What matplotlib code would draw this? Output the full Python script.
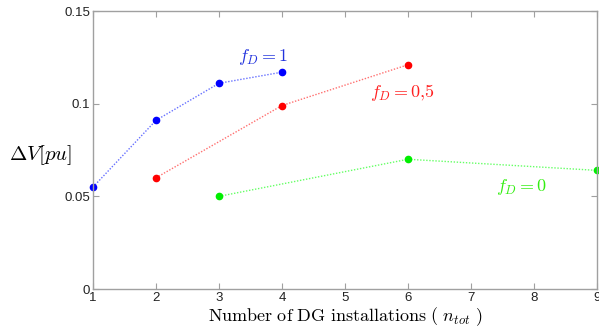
import matplotlib
matplotlib.use("Agg")
import matplotlib.pyplot as plt

plt.rcParams['mathtext.fontset'] = 'cm'

x_fd1 = [1, 2, 3, 4]
y_fd1 = [0.055, 0.091, 0.111, 0.117]
x_fd05 = [2, 4, 6]
y_fd05 = [0.060, 0.099, 0.121]
x_fd0 = [3, 6, 9]
y_fd0 = [0.050, 0.070, 0.064]
xticks = [1, 2, 3, 4, 5, 6, 7, 8, 9]
yticks = [0, 0.05, 0.1, 0.15]
ytick_labels = ['0', '0.05', '0.1', '0.15']

fig = plt.figure(figsize=(5.99, 3.28), dpi=100)
ax = fig.add_axes([93/599, 39/328, 504/599, 278/328])

for xs, ys, c, lc in [(x_fd1, y_fd1, '#0000ff', '#6670ff'),
                      (x_fd05, y_fd05, '#ff0000', '#ff7070'),
                      (x_fd0, y_fd0, '#00ee00', '#66ff66')]:
    ax.plot(xs, ys, color=lc, lw=1.0, ls=(0, (1, 1.2)), clip_on=False)
    ax.plot(xs, ys, 'o', color=c, ms=4.5, clip_on=False)

ax.text(3.3, 0.125, r'$f_D = 1$', color='#2233dd', fontsize=13, ha='left', va='center')
ax.text(5.4, 0.106, r'$f_D = 0{,}5$', color='#ff2020', fontsize=13, ha='left', va='center')
ax.text(7.4, 0.055, r'$f_D = 0$', color='#33ee11', fontsize=13, ha='left', va='center')

ax.set_xlim(1, 9)
ax.set_ylim(0, 0.15)
ax.set_xticks(xticks)
ax.set_yticks(yticks)
ax.set_yticklabels(ytick_labels)

for s in ax.spines.values():
    s.set_color('#a0a0a0')
    s.set_linewidth(1.0)
ax.tick_params(direction='in', length=4, color='#a0a0a0', labelsize=9.5,
               labelcolor='#222222', top=True, right=True, pad=2)
for lab in ax.get_xticklabels() + ax.get_yticklabels():
    lab.set_family('Liberation Sans')

ax.set_xlabel(r'$\mathrm{Number\ of\ DG\ installations\ (\ }n_{tot}\mathrm{\ )}$', fontsize=13,
              labelpad=1)
ax.set_ylabel(r'$\Delta V[pu]$', fontsize=15, rotation=0, va='center')
ax.yaxis.set_label_coords(-0.105, 0.48)

fig.savefig('out.png', dpi=100)
